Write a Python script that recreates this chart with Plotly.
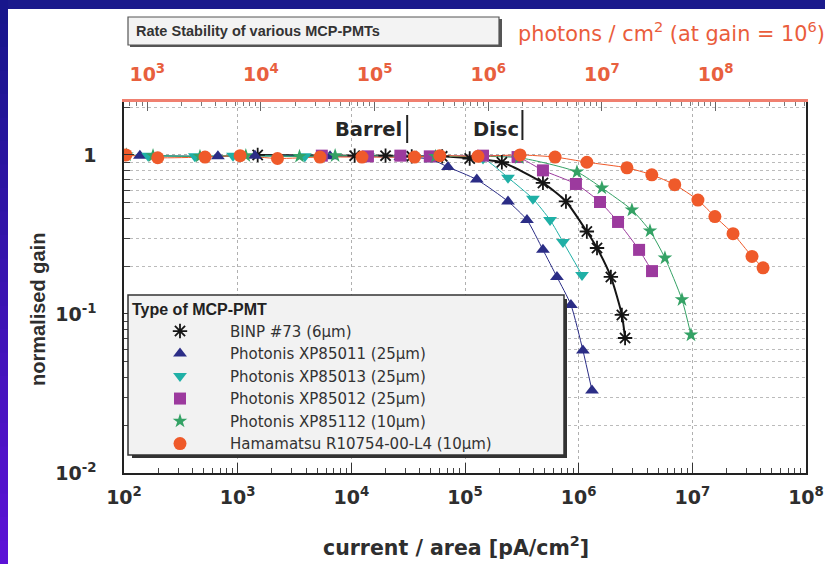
import math
import plotly.graph_objects as go

# ---------------- data ----------------
BINP_X = [1.5e3, 1.07e4, 2.0e4, 3.4e4, 6.3e4, 1.1e5, 2.11e5, 4.85e5, 7.73e5, 1.18e6, 1.45e6, 1.92e6, 2.40e6, 2.56e6]
BINP_Y = [1.0, 0.99, 0.99, 0.98, 0.98, 0.95, 0.90, 0.667, 0.51, 0.33, 0.26, 0.171, 0.0986, 0.0706]

XP85011_X = [1.38e2, 6.7e2, 1.42e3, 6.5e3, 2.7e4, 5.0e4, 7.08e4, 1.27e5, 2.39e5, 3.51e5, 4.85e5, 6.44e5, 8.55e5, 1.09e6, 1.31e6]
XP85011_Y = [0.99, 0.98, 0.99, 0.98, 0.97, 0.94, 0.84, 0.70, 0.51, 0.39, 0.253, 0.171, 0.114, 0.059, 0.033]

XP85013_X = [1.63e2, 4.2e2, 9.1e2, 3.9e3, 1.4e4, 6.0e4, 1.44e5, 2.39e5, 3.96e5, 5.6e5, 7.28e5, 1.07e6]
XP85013_Y = [0.99, 0.98, 0.99, 0.98, 0.98, 0.98, 0.95, 0.72, 0.53, 0.39, 0.284, 0.176]

XP85012_X = [5.5e3, 1.4e4, 2.7e4, 4.9e4, 1.44e5, 2.9e5, 4.85e5, 9.46e5, 1.54e6, 2.22e6, 3.40e6, 4.42e6]
XP85012_Y = [0.99, 0.98, 0.99, 0.98, 0.99, 0.97, 0.80, 0.657, 0.506, 0.379, 0.253, 0.186]

XP85112_X = [1.05e2, 1.8e2, 4.66e2, 1.18e3, 3.5e3, 7.2e3, 5.5e4, 3.0e5, 9.66e5, 1.6e6, 2.94e6, 4.24e6, 5.74e6, 8.11e6, 9.73e6]
XP85112_Y = [1.0, 0.99, 0.98, 0.99, 0.98, 0.99, 0.98, 0.96, 0.782, 0.62, 0.451, 0.333, 0.225, 0.123, 0.0738]

HAMA_X = [104, 198, 516, 1.05e3, 2.24e3, 5.3e3, 1.24e4, 3.6e4, 6.0e4, 1.3e5, 3.05e5, 6.2e5, 1.18e6, 2.66e6,
          4.4e6, 7.0e6, 1.12e7, 1.58e7, 2.28e7, 3.35e7, 4.19e7]
HAMA_Y = [1.0, 0.96, 0.97, 0.99, 0.95, 0.97, 0.97, 0.97, 0.99, 0.98, 1.0, 0.97, 0.90, 0.83,
          0.75, 0.65, 0.52, 0.41, 0.32, 0.23, 0.195]

SERIES_NAMES = ["BINP #73 (6µm)", "Photonis XP85011 (25µm)", "Photonis XP85013 (25µm)",
                "Photonis XP85012 (25µm)", "Photonis XP85112 (10µm)", "Hamamatsu R10754-00-L4 (10µm)"]

X_TICKS = [1e2, 1e3, 1e4, 1e5, 1e6, 1e7, 1e8]
X_TICKTEXT = ["10<sup>2</sup>", "10<sup>3</sup>", "10<sup>4</sup>", "10<sup>5</sup>",
              "10<sup>6</sup>", "10<sup>7</sup>", "10<sup>8</sup>"]
Y_TICKS = [1e-2, 1e-1, 1]
Y_TICKTEXT = ["10<sup>-2</sup>", "10<sup>-1</sup>", "1"]
TOP_TICKS = [1e3, 1e4, 1e5, 1e6, 1e7, 1e8]
TOP_TICKTEXT = ["10<sup>3</sup>", "10<sup>4</sup>", "10<sup>5</sup>",
                "10<sup>6</sup>", "10<sup>7</sup>", "10<sup>8</sup>"]
PHOTONS_PER_PA = 6.24   # photons/cm^2 per pA/cm^2 at gain 1e6
BARREL_X = 3.1e4
DISC_X = 3.2e5

# ---------------- geometry helpers (pixels -> paper) ----------------
W, H = 825, 564
L, R, T, B = 124, 806, 102, 473


def px(x):
    return (x - L) / (R - L)


def py(y):
    return (B - y) / (B - T)


FONT = "Arial"
WIDE = "DejaVu Sans"
DARK = "#2e2e2e"

series = [
    (BINP_X, BINP_Y, SERIES_NAMES[0], "#151515", "asterisk-open", 12, 2.0),
    (XP85011_X, XP85011_Y, SERIES_NAMES[1], "#2b2d86", "triangle-up", 12, 1.0),
    (XP85013_X, XP85013_Y, SERIES_NAMES[2], "#1fb0a6", "triangle-down", 12, 1.0),
    (XP85012_X, XP85012_Y, SERIES_NAMES[3], "#9c3a9e", "square", 12, 1.0),
    (XP85112_X, XP85112_Y, SERIES_NAMES[4], "#34a265", "star", 11, 1.0),
    (HAMA_X, HAMA_Y, SERIES_NAMES[5], "#ef5a2a", "circle", 13, 1.0),
]

fig = go.Figure()

for xs, ys, name, col, sym, size, lw in series:
    fig.add_trace(go.Scatter(x=xs, y=ys, mode="lines", line=dict(color=col, width=lw, shape="spline", smoothing=0.6),
                             showlegend=False, hoverinfo="skip"))

for xs, ys, name, col, sym, size, lw in series:
    if sym == "asterisk-open":
        mk = dict(symbol=sym, size=size, color=col, line=dict(color=col, width=1.8))
    else:
        mk = dict(symbol=sym, size=size, color=col, line=dict(width=0))
    fig.add_trace(go.Scatter(x=xs, y=ys, mode="markers", marker=mk, name=name))

fig.add_trace(go.Scatter(x=[v * PHOTONS_PER_PA for v in HAMA_X], y=HAMA_Y, xaxis="x2", mode="lines",
                         line=dict(width=0), opacity=0, showlegend=False, hoverinfo="skip"))

shapes = []
shapes.append(dict(type="rect", xref="paper", yref="paper", x0=px(0), x1=px(W), y0=py(9), y1=py(0),
                   fillcolor="#1b1a8c", line=dict(width=0), layer="below"))
NSEG = 24
c0 = (24, 22, 140)
c1 = (92, 18, 214)
for i in range(NSEG):
    t = i / (NSEG - 1)
    col = "rgb(%d,%d,%d)" % tuple(int(c0[k] + (c1[k] - c0[k]) * t) for k in range(3))
    y0p = i * H / NSEG
    y1p = (i + 1) * H / NSEG + 1
    shapes.append(dict(type="rect", xref="paper", yref="paper", x0=px(0), x1=px(8), y0=py(y1p), y1=py(y0p),
                       fillcolor=col, line=dict(width=0), layer="below"))
# title box
shapes.append(dict(type="rect", xref="paper", yref="paper", x0=px(130), x1=px(502), y0=py(47), y1=py(19),
                   fillcolor="#555555", line=dict(width=0)))
shapes.append(dict(type="rect", xref="paper", yref="paper", x0=px(128), x1=px(499), y0=py(45), y1=py(17),
                   fillcolor="#f3f3f3", line=dict(color="#555555", width=1.2)))
# legend box with shadow
shapes.append(dict(type="rect", xref="paper", yref="paper", x0=px(132), x1=px(567), y0=py(458), y1=py(299),
                   fillcolor="#333333", line=dict(width=0), layer="above"))
shapes.append(dict(type="rect", xref="paper", yref="paper", x0=px(128), x1=px(564), y0=py(455), y1=py(295),
                   fillcolor="#f2f2f2", line=dict(color="#333333", width=1.5), layer="above"))
# Barrel / Disc markers
shapes.append(dict(type="line", xref="x", yref="paper", x0=BARREL_X, x1=BARREL_X, y0=py(143), y1=py(115),
                   line=dict(color="#222", width=2)))
shapes.append(dict(type="line", xref="x", yref="paper", x0=DISC_X, x1=DISC_X, y0=py(140), y1=py(110),
                   line=dict(color="#222", width=2)))

annotations = [
    dict(text="<b>Rate Stability of various MCP-PMTs</b>", xref="paper", yref="paper", x=px(134), y=py(31),
         xanchor="left", yanchor="middle", showarrow=False, font=dict(family=FONT, size=14.5, color="#333")),
    dict(text="photons / cm<sup>2</sup> (at gain = 10<sup>6</sup>)", xref="paper", yref="paper", x=px(516), y=py(32),
         xanchor="left", yanchor="middle", showarrow=False, font=dict(family=WIDE, size=20.8, color="#ea5d3c")),
    dict(text="<b>Barrel</b>", xref="paper", yref="paper", x=px(404), y=py(129), xanchor="right", yanchor="middle",
         showarrow=False, font=dict(family=WIDE, size=19.5, color="#262626")),
    dict(text="<b>Disc</b>", xref="paper", yref="paper", x=px(521), y=py(129), xanchor="right", yanchor="middle",
         showarrow=False, font=dict(family=WIDE, size=19.5, color="#262626")),
    dict(text="<b>normalised gain</b>", xref="paper", yref="paper", x=px(38), y=py(310), textangle=-90,
         xanchor="center", yanchor="middle", showarrow=False, font=dict(family=FONT, size=20, color=DARK)),
    dict(text="<b>current / area [pA/cm<sup>2</sup>]</b>", xref="paper", yref="paper", x=px(456), y=py(546),
         xanchor="center", yanchor="middle", showarrow=False, font=dict(family=WIDE, size=20.5, color=DARK)),
]

minor_x = [m * 10 ** d for d in range(2, 8) for m in range(2, 10)]
minor_y = [m * 10 ** d for d in range(-2, 1) for m in range(2, 10)]
minor_top = [m * 10 ** d for d in range(2, 9) for m in range(2, 10)]

fig.update_layout(
    width=W, height=H, autosize=False,
    margin=dict(l=L, r=W - R, t=T, b=H - B, pad=0, autoexpand=False),
    paper_bgcolor="white", plot_bgcolor="white",
    shapes=shapes, annotations=annotations,
    font=dict(family=FONT, color=DARK),
    xaxis=dict(type="log", range=[2, 8], tickmode="array", tickvals=X_TICKS, ticktext=X_TICKTEXT,
               ticks="inside", ticklen=10, tickwidth=1.2, tickcolor="#333", automargin=False,
               showline=True, linecolor="#222", linewidth=1.5,
               showgrid=True, gridcolor="#b0b0b0", griddash="dot", gridwidth=1,
               tickfont=dict(family=WIDE, size=19, color=DARK, weight="bold"), ticklabelstandoff=6,
               minor=dict(tickmode="array", tickvals=minor_x, ticks="inside", ticklen=5, tickcolor="#444",
                          showgrid=False),
               zeroline=False),
    xaxis2=dict(type="log", overlaying="x", side="top", anchor="y", automargin=False,
                range=[2 + math.log10(PHOTONS_PER_PA), 8 + math.log10(PHOTONS_PER_PA)],
                tickmode="array", tickvals=TOP_TICKS, ticktext=TOP_TICKTEXT,
                ticks="inside", ticklen=9, tickcolor="#666", tickwidth=1,
                showline=True, linecolor="#f08070", linewidth=3, showgrid=False,
                tickfont=dict(family=WIDE, size=19, color="#e8603e", weight="bold"), ticklabelstandoff=10,
                minor=dict(tickmode="array", tickvals=minor_top, ticks="inside", ticklen=4, tickcolor="#777",
                           showgrid=False)),
    yaxis=dict(type="log", range=[-2, 0.333], tickmode="array", tickvals=Y_TICKS, ticktext=Y_TICKTEXT,
               ticks="inside", ticklen=10, tickwidth=1.2, tickcolor="#333", automargin=False,
               showline=True, linecolor="#222", linewidth=1.5, mirror=True,
               showgrid=True, gridcolor="#b0b0b0", griddash="dot", gridwidth=1,
               tickfont=dict(family=WIDE, size=19, color=DARK, weight="bold"), ticklabelstandoff=22,
               minor=dict(tickmode="array", tickvals=minor_y, ticks="inside", ticklen=6, tickcolor="#444",
                          showgrid=True, gridcolor="#bbbbbb", griddash="dot", gridwidth=1),
               zeroline=False),
    legend=dict(x=px(130), y=py(294), xanchor="left", yanchor="top",
                bgcolor="rgba(0,0,0,0)", borderwidth=0,
                font=dict(family=WIDE, size=15, color="#333"),
                title=dict(text="<b>Type of MCP-PMT</b>", font=dict(family=FONT, size=16, color="#222"), side="top"),
                itemwidth=90, tracegroupgap=0),
    showlegend=True,
)

fig.write_html("out.html")
